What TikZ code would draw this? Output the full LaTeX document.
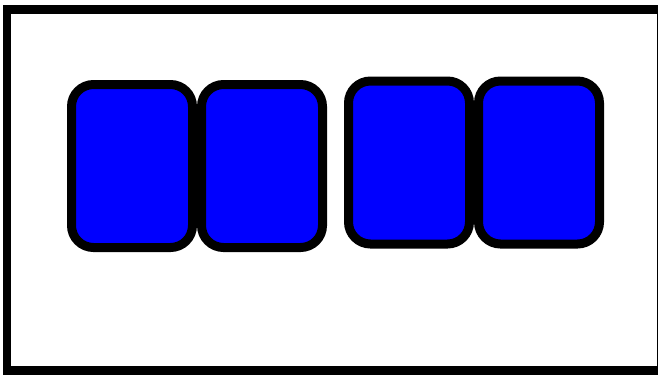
\documentclass[tikz,border=0pt]{standalone}
\usepackage{tikz}
\usetikzlibrary{positioning}
\definecolor{cellfill}{HTML}{0000FF}
\definecolor{cellline}{HTML}{000000}

\begin{document}
\begin{tikzpicture}[
cell/.style={draw=cellline,fill=cellfill,rounded corners=0.44cm,line width=0.18cm,minimum width=2.42cm,minimum height=3.26cm,inner sep=0pt},
frame/.style={draw=black,line width=0.18cm}]
\useasboundingbox (0,0) rectangle (13.16,7.52);
\draw[frame] (0.14,7.33) rectangle (13.22,0.12);
\node[cell] (cellA) at (2.64,4.2) {};
\node[cell,right=0pt of cellA] (cellB) {};
\node[cell,right=0.34cm of cellB,yshift=0.07cm] (cellC) {};
\node[cell,right=0pt of cellC] (cellD) {};
\end{tikzpicture}
\end{document}
